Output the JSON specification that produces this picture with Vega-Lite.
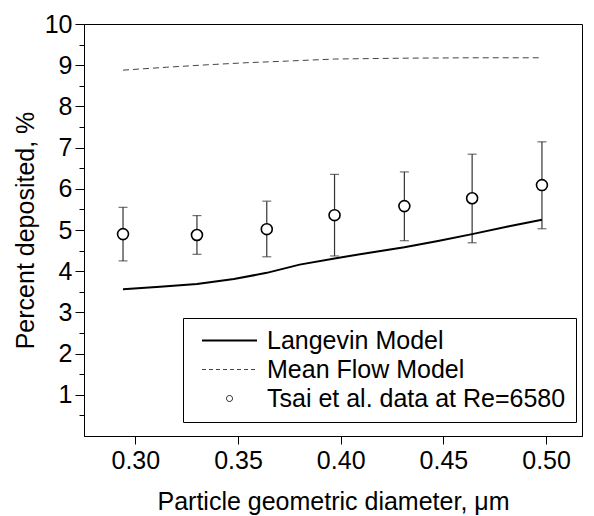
{
  "$schema": "https://vega.github.io/schema/vega-lite/v6.json",
  "width": 498,
  "height": 412,
  "autosize": "none",
  "padding": {"left": 84, "top": 24, "right": 12, "bottom": 80},
  "background": "white",
  "config": {
    "view": {"stroke": "black", "strokeWidth": 1},
    "font": "Liberation Sans",
    "axis": {
      "grid": false,
      "domainColor": "black",
      "tickColor": "black",
      "labelColor": "black",
      "titleColor": "black",
      "labelFont": "Liberation Sans",
      "titleFont": "Liberation Sans",
      "labelFontSize": 25,
      "titleFontSize": 25,
      "titleFontWeight": "normal",
      "domainWidth": 1,
      "tickWidth": 1
    }
  },
  "datasets": {
    "tsai": [
      {"series": "Tsai et al. data at Re=6580", "d": 0.294, "v": 4.90, "lo": 4.25, "hi": 5.55},
      {"series": "Tsai et al. data at Re=6580", "d": 0.330, "v": 4.88, "lo": 4.41, "hi": 5.35},
      {"series": "Tsai et al. data at Re=6580", "d": 0.364, "v": 5.02, "lo": 4.35, "hi": 5.70},
      {"series": "Tsai et al. data at Re=6580", "d": 0.397, "v": 5.36, "lo": 4.37, "hi": 6.35},
      {"series": "Tsai et al. data at Re=6580", "d": 0.431, "v": 5.58, "lo": 4.74, "hi": 6.41},
      {"series": "Tsai et al. data at Re=6580", "d": 0.464, "v": 5.77, "lo": 4.69, "hi": 6.84},
      {"series": "Tsai et al. data at Re=6580", "d": 0.498, "v": 6.09, "lo": 5.03, "hi": 7.14}
    ],
    "langevin": [
      {"series": "Langevin Model", "d": 0.294, "v": 3.56},
      {"series": "Langevin Model", "d": 0.312, "v": 3.62},
      {"series": "Langevin Model", "d": 0.330, "v": 3.69},
      {"series": "Langevin Model", "d": 0.348, "v": 3.81},
      {"series": "Langevin Model", "d": 0.364, "v": 3.96},
      {"series": "Langevin Model", "d": 0.380, "v": 4.16},
      {"series": "Langevin Model", "d": 0.397, "v": 4.31},
      {"series": "Langevin Model", "d": 0.414, "v": 4.45},
      {"series": "Langevin Model", "d": 0.431, "v": 4.58},
      {"series": "Langevin Model", "d": 0.448, "v": 4.74},
      {"series": "Langevin Model", "d": 0.464, "v": 4.90},
      {"series": "Langevin Model", "d": 0.482, "v": 5.09},
      {"series": "Langevin Model", "d": 0.498, "v": 5.25}
    ],
    "meanflow": [
      {"series": "Mean Flow Model", "d": 0.294, "v": 8.88},
      {"series": "Mean Flow Model", "d": 0.315, "v": 8.95},
      {"series": "Mean Flow Model", "d": 0.335, "v": 9.01},
      {"series": "Mean Flow Model", "d": 0.354, "v": 9.06},
      {"series": "Mean Flow Model", "d": 0.374, "v": 9.10},
      {"series": "Mean Flow Model", "d": 0.397, "v": 9.15},
      {"series": "Mean Flow Model", "d": 0.430, "v": 9.17},
      {"series": "Mean Flow Model", "d": 0.464, "v": 9.18},
      {"series": "Mean Flow Model", "d": 0.498, "v": 9.18}
    ]
  },
  "resolve": {"scale": {"y": "independent"}, "axis": {"y": "independent"}},
  "encoding": {
    "x": {
      "field": "d",
      "type": "quantitative",
      "scale": {"domain": [0.275, 0.5175], "nice": false, "zero": false},
      "axis": {
        "values": [0.3, 0.35, 0.4, 0.45, 0.5],
        "format": ".2f",
        "tickSize": 8,
        "labelPadding": 4,
        "title": "Particle geometric diameter, μm",
        "titlePadding": 16
      }
    }
  },
  "layer": [
    {
      "data": {"name": "tsai"},
      "mark": {"type": "errorbar", "color": "#333333", "thickness": 1.2, "ticks": {"size": 9}},
      "encoding": {
        "y": {
          "field": "lo",
          "type": "quantitative",
          "scale": {"domain": [0, 10], "nice": false},
          "axis": null
        },
        "y2": {"field": "hi"}
      }
    },
    {
      "data": {"name": "langevin"},
      "mark": {"type": "line", "strokeWidth": 2},
      "encoding": {
        "y": {
          "field": "v",
          "type": "quantitative",
          "scale": {"domain": [0, 10], "nice": false},
          "axis": {
            "orient": "left",
            "values": [1, 2, 3, 4, 5, 6, 7, 8, 9, 10],
            "format": "d",
            "labelOverlap": false,
            "tickSize": 9,
            "labelPadding": 3,
            "title": "Percent deposited, %",
            "titlePadding": 6
          }
        },
        "color": {
          "field": "series",
          "type": "nominal",
          "scale": {
            "domain": ["Langevin Model", "Mean Flow Model", "Tsai et al. data at Re=6580"],
            "range": ["#000000", "#444444", "#000000"]
          },
          "legend": {
            "title": null,
            "orient": "none",
            "legendX": 99,
            "legendY": 294,
            "direction": "vertical",
            "symbolType": "M-5,0H5",
            "symbolSize": 121,
            "symbolStrokeWidth": 2,
            "labelFont": "Liberation Sans",
            "labelFontSize": 25,
            "labelColor": "black",
            "labelLimit": 0,
            "labelOffset": 25,
            "symbolOffset": 24,
            "rowPadding": 3,
            "padding": 10,
            "strokeColor": "black",
            "fillColor": "white",
            "encode": {
              "symbols": {
                "update": {
                  "shape": {"signal": "datum.value === 'Tsai et al. data at Re=6580' ? 'circle' : 'M-5,0H5'"},
                  "size": {"signal": "datum.value === 'Tsai et al. data at Re=6580' ? 36 : 121"},
                  "strokeDash": {"signal": "datum.value === 'Mean Flow Model' ? [4,3] : [1,0]"},
                  "stroke": {"signal": "datum.value === 'Mean Flow Model' ? '#666666' : '#000000'"},
                  "strokeWidth": {"signal": "datum.value === 'Langevin Model' ? 2 : 1"},
                  "fill": {"value": "white"},
                  "opacity": {"value": 1}
                }
              }
            }
          }
        }
      }
    },
    {
      "data": {"name": "meanflow"},
      "mark": {"type": "line", "strokeWidth": 1, "strokeDash": [6, 4]},
      "encoding": {
        "y": {
          "field": "v",
          "type": "quantitative",
          "scale": {"domain": [0, 10], "nice": false},
          "axis": {
            "orient": "left",
            "values": [0.5, 1.5, 2.5, 3.5, 4.5, 5.5, 6.5, 7.5, 8.5, 9.5],
            "tickSize": 5,
            "labels": false,
            "domain": false,
            "title": null
          }
        },
        "color": {"field": "series", "type": "nominal"}
      }
    },
    {
      "data": {"name": "tsai"},
      "mark": {"type": "point", "shape": "circle", "filled": false, "fill": "white", "size": 120, "strokeWidth": 1.6, "opacity": 1},
      "encoding": {
        "y": {
          "field": "v",
          "type": "quantitative",
          "scale": {"domain": [0, 10], "nice": false},
          "axis": null
        },
        "color": {"field": "series", "type": "nominal"}
      }
    }
  ]
}
